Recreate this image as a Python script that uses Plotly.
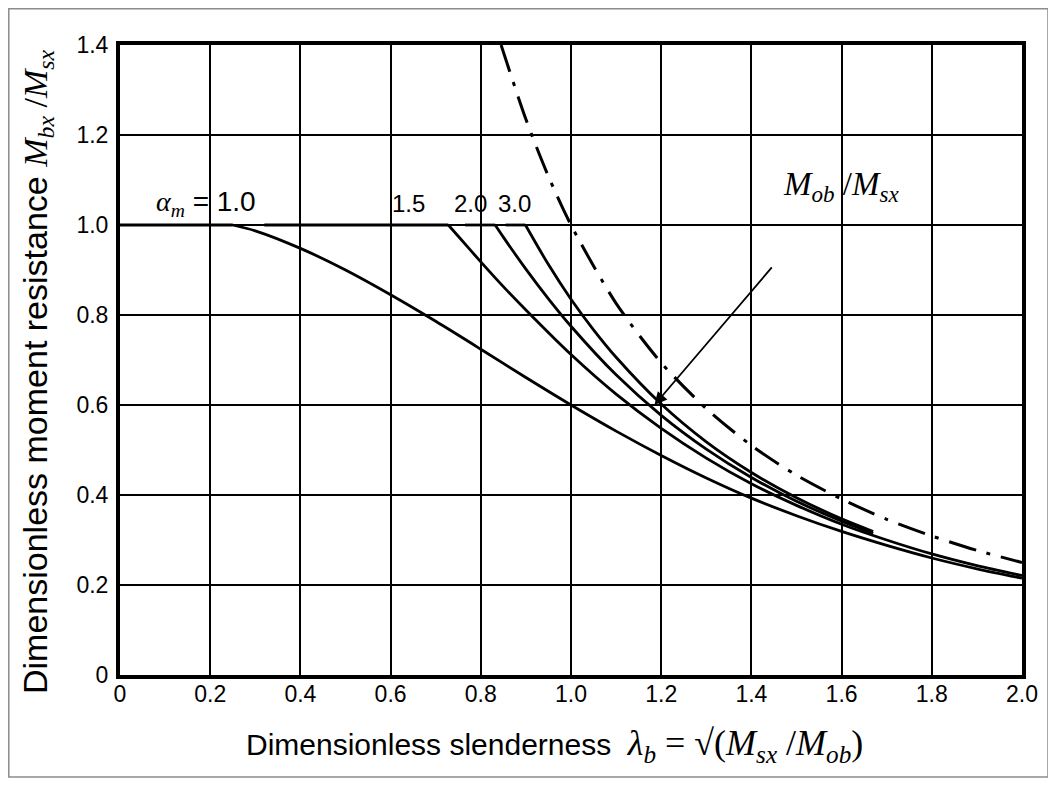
import plotly.graph_objects as go

# ---------------- data ----------------
lam_a10 = [0.25, 0.3, 0.4, 0.5, 0.6, 0.7, 0.8, 0.9, 1.0, 1.1, 1.2, 1.3, 1.4, 1.5, 1.6, 1.7, 1.8, 1.9, 2.0]
mb_a10 = [1.0, 0.987, 0.948, 0.900, 0.845, 0.786, 0.724, 0.661, 0.600, 0.542, 0.488, 0.438, 0.393, 0.354, 0.319, 0.288, 0.260, 0.236, 0.215]

lam_a15 = [0.728, 0.75, 0.8, 0.85, 0.9, 1.0, 1.1, 1.2, 1.3, 1.4, 1.5, 1.6, 1.7, 1.8, 1.9, 2.0]
mb_a15 = [1.0, 0.975, 0.918, 0.863, 0.811, 0.712, 0.624, 0.548, 0.482, 0.425, 0.377, 0.335, 0.300, 0.269, 0.243, 0.221]

lam_a20 = [0.832, 0.85, 0.9, 0.95, 1.0, 1.1, 1.2, 1.3, 1.4, 1.5, 1.6, 1.67]
mb_a20 = [1.0, 0.973, 0.902, 0.836, 0.775, 0.667, 0.577, 0.502, 0.439, 0.386, 0.342, 0.315]

lam_a30 = [0.899, 0.95, 1.0, 1.05, 1.1, 1.2, 1.3, 1.4, 1.5, 1.6, 1.67]
mb_a30 = [1.0, 0.912, 0.835, 0.767, 0.706, 0.602, 0.518, 0.450, 0.394, 0.347, 0.319]

# plateau segments at M_bx/M_sx = 1.0 (start, end)
plateau_start = [0.0, 0.32, 0.765, 0.855]
plateau_end = [0.25, 0.728, 0.832, 0.899]
plateau_level = 1.0

lam_mob = [0.845, 0.9, 0.95, 1.0, 1.1, 1.2, 1.3, 1.4, 1.5, 1.6, 1.7, 1.8, 1.9, 2.0]
mob_msx = [1.4, 1.235, 1.108, 1.0, 0.826, 0.694, 0.592, 0.510, 0.444, 0.391, 0.346, 0.309, 0.277, 0.25]

x_ticks = [0, 0.2, 0.4, 0.6, 0.8, 1.0, 1.2, 1.4, 1.6, 1.8, 2.0]
x_ticktext = ["0", "0.2", "0.4", "0.6", "0.8", "1.0", "1.2", "1.4", "1.6", "1.8", "2.0"]
y_ticks = [0, 0.2, 0.4, 0.6, 0.8, 1.0, 1.2, 1.4]
y_ticktext = ["0", "0.2", "0.4", "0.6", "0.8", "1.0", "1.2", "1.4"]

curve_labels = ["1.5", "2.0", "3.0"]
curve_label_x = [0.64, 0.777, 0.874]

# ---------------- figure ----------------
W, H = 1056, 792
ML, MT = 112, 37
PW, PH = 902, 630
MR, MB = W - ML - PW, H - MT - PH
OFF = 8  # page offset of the figure inside the browser window

SERIF = "Liberation Serif, Times New Roman, serif"
SANS = "Liberation Sans, Arial, sans-serif"

fig = go.Figure()

line_style = dict(color="black", width=2.8)
for xs, ys in [(lam_a10, mb_a10), (lam_a15, mb_a15), (lam_a20, mb_a20), (lam_a30, mb_a30)]:
    fig.add_trace(go.Scatter(x=xs, y=ys, mode="lines", line=dict(shape="spline", smoothing=0.8, **line_style),
                             showlegend=False, hoverinfo="skip"))

for s, e in zip(plateau_start, plateau_end):
    fig.add_trace(go.Scatter(x=[s, e], y=[plateau_level, plateau_level], mode="lines", line=line_style,
                             showlegend=False, hoverinfo="skip"))

fig.add_trace(go.Scatter(x=lam_mob, y=mob_msx, mode="lines",
                         line=dict(color="black", width=3, dash="28px,11px,4px,11px", shape="spline", smoothing=0.8),
                         showlegend=False, hoverinfo="skip"))


def px2paper_x(px):
    # px: screen pixel in the reference picture
    return (px - OFF - ML) / PW


def px2paper_y(py):
    return (MT + PH - (py - OFF)) / PH


# outer gray frame
fig.add_shape(type="rect", xref="paper", yref="paper",
              x0=px2paper_x(8.8), x1=px2paper_x(1048), y0=px2paper_y(777), y1=px2paper_y(8.8),
              line=dict(color="#8c8c8c", width=1.5), layer="below")

annotations = []
annotations.append(dict(x=0.19, y=1.047, xref="x", yref="y",
                        text=f"<span style='font-family:{SERIF}'><i>α<sub>m</sub></i></span> = 1.0",
                        showarrow=False, font=dict(family=SANS, size=28, color="black")))
for t, xv in zip(curve_labels, curve_label_x):
    annotations.append(dict(x=xv, y=1.047, xref="x", yref="y", text=t, showarrow=False,
                            font=dict(family=SANS, size=24, color="black")))

annotations.append(dict(x=1.60, y=1.085, xref="x", yref="y",
                        text="<i>M<sub>ob</sub></i> /<i>M<sub>sx</sub></i>", showarrow=False,
                        font=dict(family=SERIF, size=33, color="black")))
annotations.append(dict(x=1.185, y=0.60, ax=1.448, ay=0.909, xref="x", yref="y", axref="x", ayref="y",
                        text="", showarrow=True, arrowhead=2, arrowsize=1.4, arrowwidth=1.8,
                        arrowcolor="black"))

annotations.append(dict(x=px2paper_x(554), y=px2paper_y(745), xref="paper", yref="paper",
                        xanchor="center", yanchor="middle",
                        text=("Dimensionless slenderness&nbsp;&nbsp;<span style='font-family:" + SERIF
                              + "; font-size:36px'>"
                              "<i>λ<sub>b</sub></i> = √(<i>M<sub>sx</sub></i> /<i>M<sub>ob</sub></i>)</span>"),
                        showarrow=False, font=dict(family=SANS, size=30, color="black")))
annotations.append(dict(x=px2paper_x(38), y=px2paper_y(372), xref="paper", yref="paper", textangle=-90,
                        xanchor="center", yanchor="middle",
                        text=("Dimensionless moment resistance <span style='font-family:" + SERIF + "'>"
                              "<i>M<sub>bx</sub></i> /<i>M<sub>sx</sub></i></span>"),
                        showarrow=False, font=dict(family=SANS, size=34, color="black")))

axis_common = dict(showgrid=True, gridcolor="black", gridwidth=1.5, zeroline=False,
                   showline=True, linecolor="black", linewidth=4, mirror=True, ticks="",
                   tickfont=dict(family=SANS, size=23, color="black"))

fig.update_layout(
    width=W, height=H,
    margin=dict(l=ML, r=MR, t=MT, b=MB),
    paper_bgcolor="white", plot_bgcolor="white",
    xaxis=dict(range=[0, 2.0], tickvals=x_ticks, ticktext=x_ticktext, ticklabelstandoff=-5, **axis_common),
    yaxis=dict(range=[0, 1.4], tickvals=y_ticks, ticktext=y_ticktext, ticklabelstandoff=3, **axis_common),
    annotations=annotations,
    showlegend=False,
)

fig.write_html("out.html")
